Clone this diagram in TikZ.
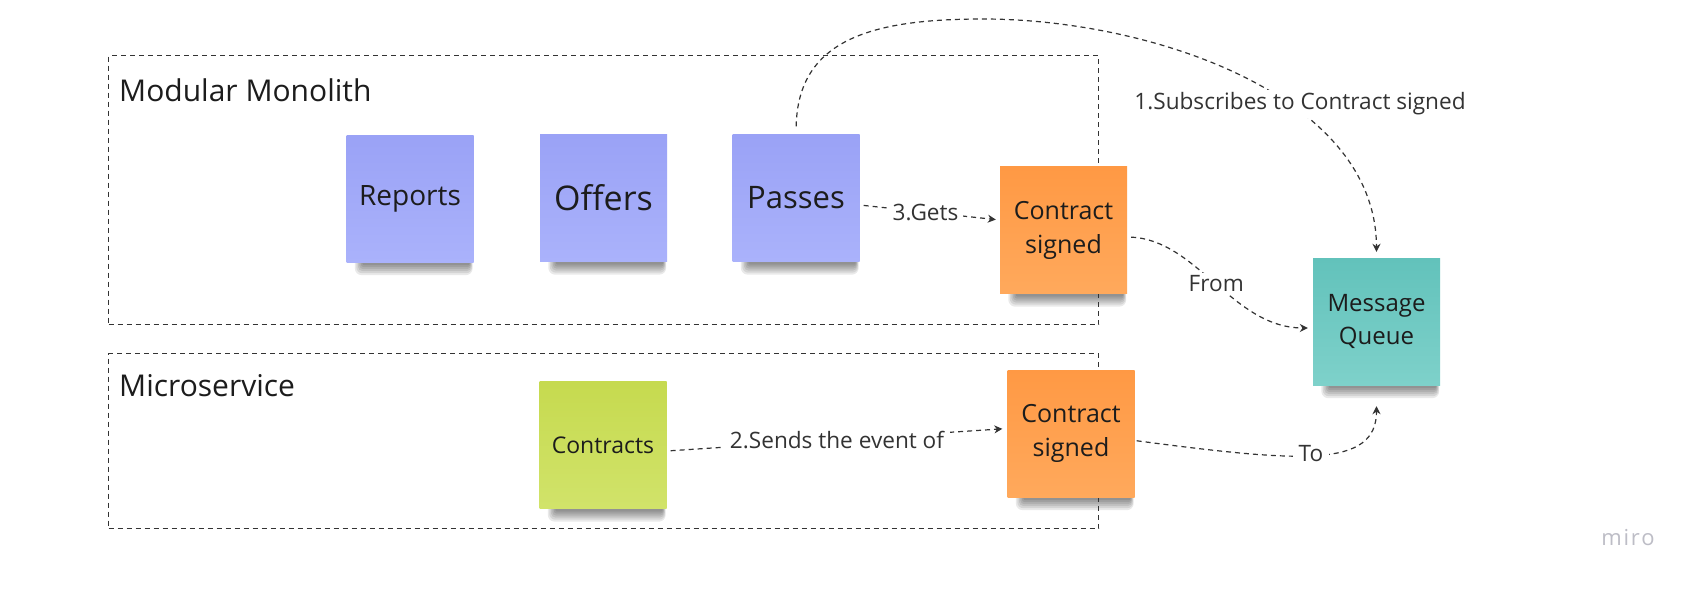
\documentclass[tikz,border=0pt]{standalone}
\usepackage{fontspec}
\setmainfont{Open Sans}
\newfontfamily\mirofont[LetterSpace=8]{Open Sans}
\usetikzlibrary{arrows.meta,backgrounds,calc}
\definecolor{ink}{HTML}{333333}
\definecolor{txt}{HTML}{1C1C1C}
\definecolor{blueT}{HTML}{9AA2F6}
\definecolor{blueB}{HTML}{AAB2FB}
\definecolor{orangeT}{HTML}{FF9944}
\definecolor{orangeB}{HTML}{FFA95C}
\definecolor{greenT}{HTML}{C6DA4F}
\definecolor{greenB}{HTML}{D1E36A}
\definecolor{tealT}{HTML}{62C2BB}
\definecolor{tealB}{HTML}{7ED1CA}
\definecolor{miroc}{HTML}{BDBDC6}
\begin{document}
\begin{tikzpicture}[x=1pt,y=-1pt,
  sticky/.style={minimum width=127pt, minimum height=127pt, inner sep=0pt, align=center, text=txt},
  bluenote/.style={sticky, top color=blueT, bottom color=blueB},
  orangenote/.style={sticky, top color=orangeT, bottom color=orangeB, font=\fontsize{25}{34}\selectfont},
  greennote/.style={sticky, top color=greenT, bottom color=greenB},
  tealnote/.style={sticky, top color=tealT, bottom color=tealB, font=\fontsize{24}{33}\selectfont},
  frame/.style={draw=ink, line width=1.2pt, dash pattern=on 5pt off 4pt},
  conn/.style={draw=ink, line width=1.2pt, dash pattern=on 5pt off 4pt, -{Stealth[length=8pt,width=8pt]}},
  elabel/.style={fill=white, text=ink, font=\fontsize{22.6}{26}\selectfont, inner xsep=5pt, inner ysep=2pt},
  grouplabel/.style={anchor=base west, text=txt, font=\fontsize{30}{36}\selectfont, inner sep=0pt}]

\begin{scope}[on background layer]
  \fill[white] (0,0) rectangle (1694,590);
\end{scope}
\useasboundingbox (0,0) rectangle (1694,590);

% group frames
\node[frame, minimum width=990pt, minimum height=269pt, anchor=north west, inner sep=0pt] (mm) at (108,55) {};
\node[frame, minimum width=990pt, minimum height=175pt, anchor=north west, inner sep=0pt] (ms) at (108,353) {};
\node[grouplabel] (mml) at (119,101) {Modular Monolith};
\node[grouplabel] (msl) at (119,396) {Microservice};

% stickies
\node[bluenote, font=\fontsize{28}{34}\selectfont] (rep) at (410,198.5) {Reports};
\node[bluenote, font=\fontsize{34}{40}\selectfont] (off) at (603.5,198) {Offers};
\node[bluenote, font=\fontsize{31}{36}\selectfont] (pas) at (796,198) {Passes};
\node[orangenote] (cs1) at (1063.5,230) {Contract\\signed};
\node[tealnote] (mq) at (1376.5,321.5) {Message\\Queue};
\node[greennote, font=\fontsize{23}{28}\selectfont] (con) at (603,445) {Contracts};
\node[orangenote] (cs2) at (1071,433.5) {Contract\\signed};

% shadows
\begin{scope}[on background layer]
\foreach \n in {rep,off,pas,cs1,mq,con,cs2}{
  \foreach \k in {0,...,5}{
    \fill[black, opacity=0.085, rounded corners={2+\k}]
      ([xshift={16-1.5*\k}, yshift=8]\n.south west) rectangle ([xshift={-4+0.6*\k}, yshift={-3-2*\k}]\n.south east);
  }
}
\end{scope}

% connectors
\coordinate (peak) at (983,19);
\node[elabel, inner xsep=2pt, inner ysep=3pt] (subl) at (1300,104) {1.Subscribes to Contract signed};
\begin{scope}[on background layer]
\draw[conn, shorten <=8pt, shorten >=6pt] (pas.north) .. controls +(2,-95) and (872,19) .. (peak)
   .. controls (1150,19) and (1376,95) .. (mq.north);
\end{scope}

\draw[conn, shorten <=4pt, shorten >=4pt] ([yshift=-7]pas.east) -- node[elabel, pos=0.47] (getl) {3.Gets} ([yshift=10]cs1.west);

\draw[conn, shorten <=4pt, shorten >=5pt] ([yshift=-6]con.east) -- node[elabel, pos=0.5, inner xsep=6pt] (sendl) {2.Sends the event of} ([yshift=5]cs2.west);

\draw[conn, shorten <=4pt, shorten >=5pt] ([yshift=-7]cs1.east) .. controls +(70,3) and +(-80,0) .. node[elabel, pos=0.5, inner xsep=4pt] (froml) {From} ([yshift=-6.5]mq.west);

\draw[conn, shorten <=2pt, shorten >=21pt] ([yshift=-7]cs2.east) .. controls +(167,22) and +(0,83) .. node[elabel, pos=0.47, inner xsep=6pt] (tol) {To} (mq.south);

% watermark
\node[text=miroc, font=\mirofont\fontsize{22}{26}\selectfont, inner sep=0pt] (miro) at (1628,538) {miro};
\end{tikzpicture}
\end{document}
